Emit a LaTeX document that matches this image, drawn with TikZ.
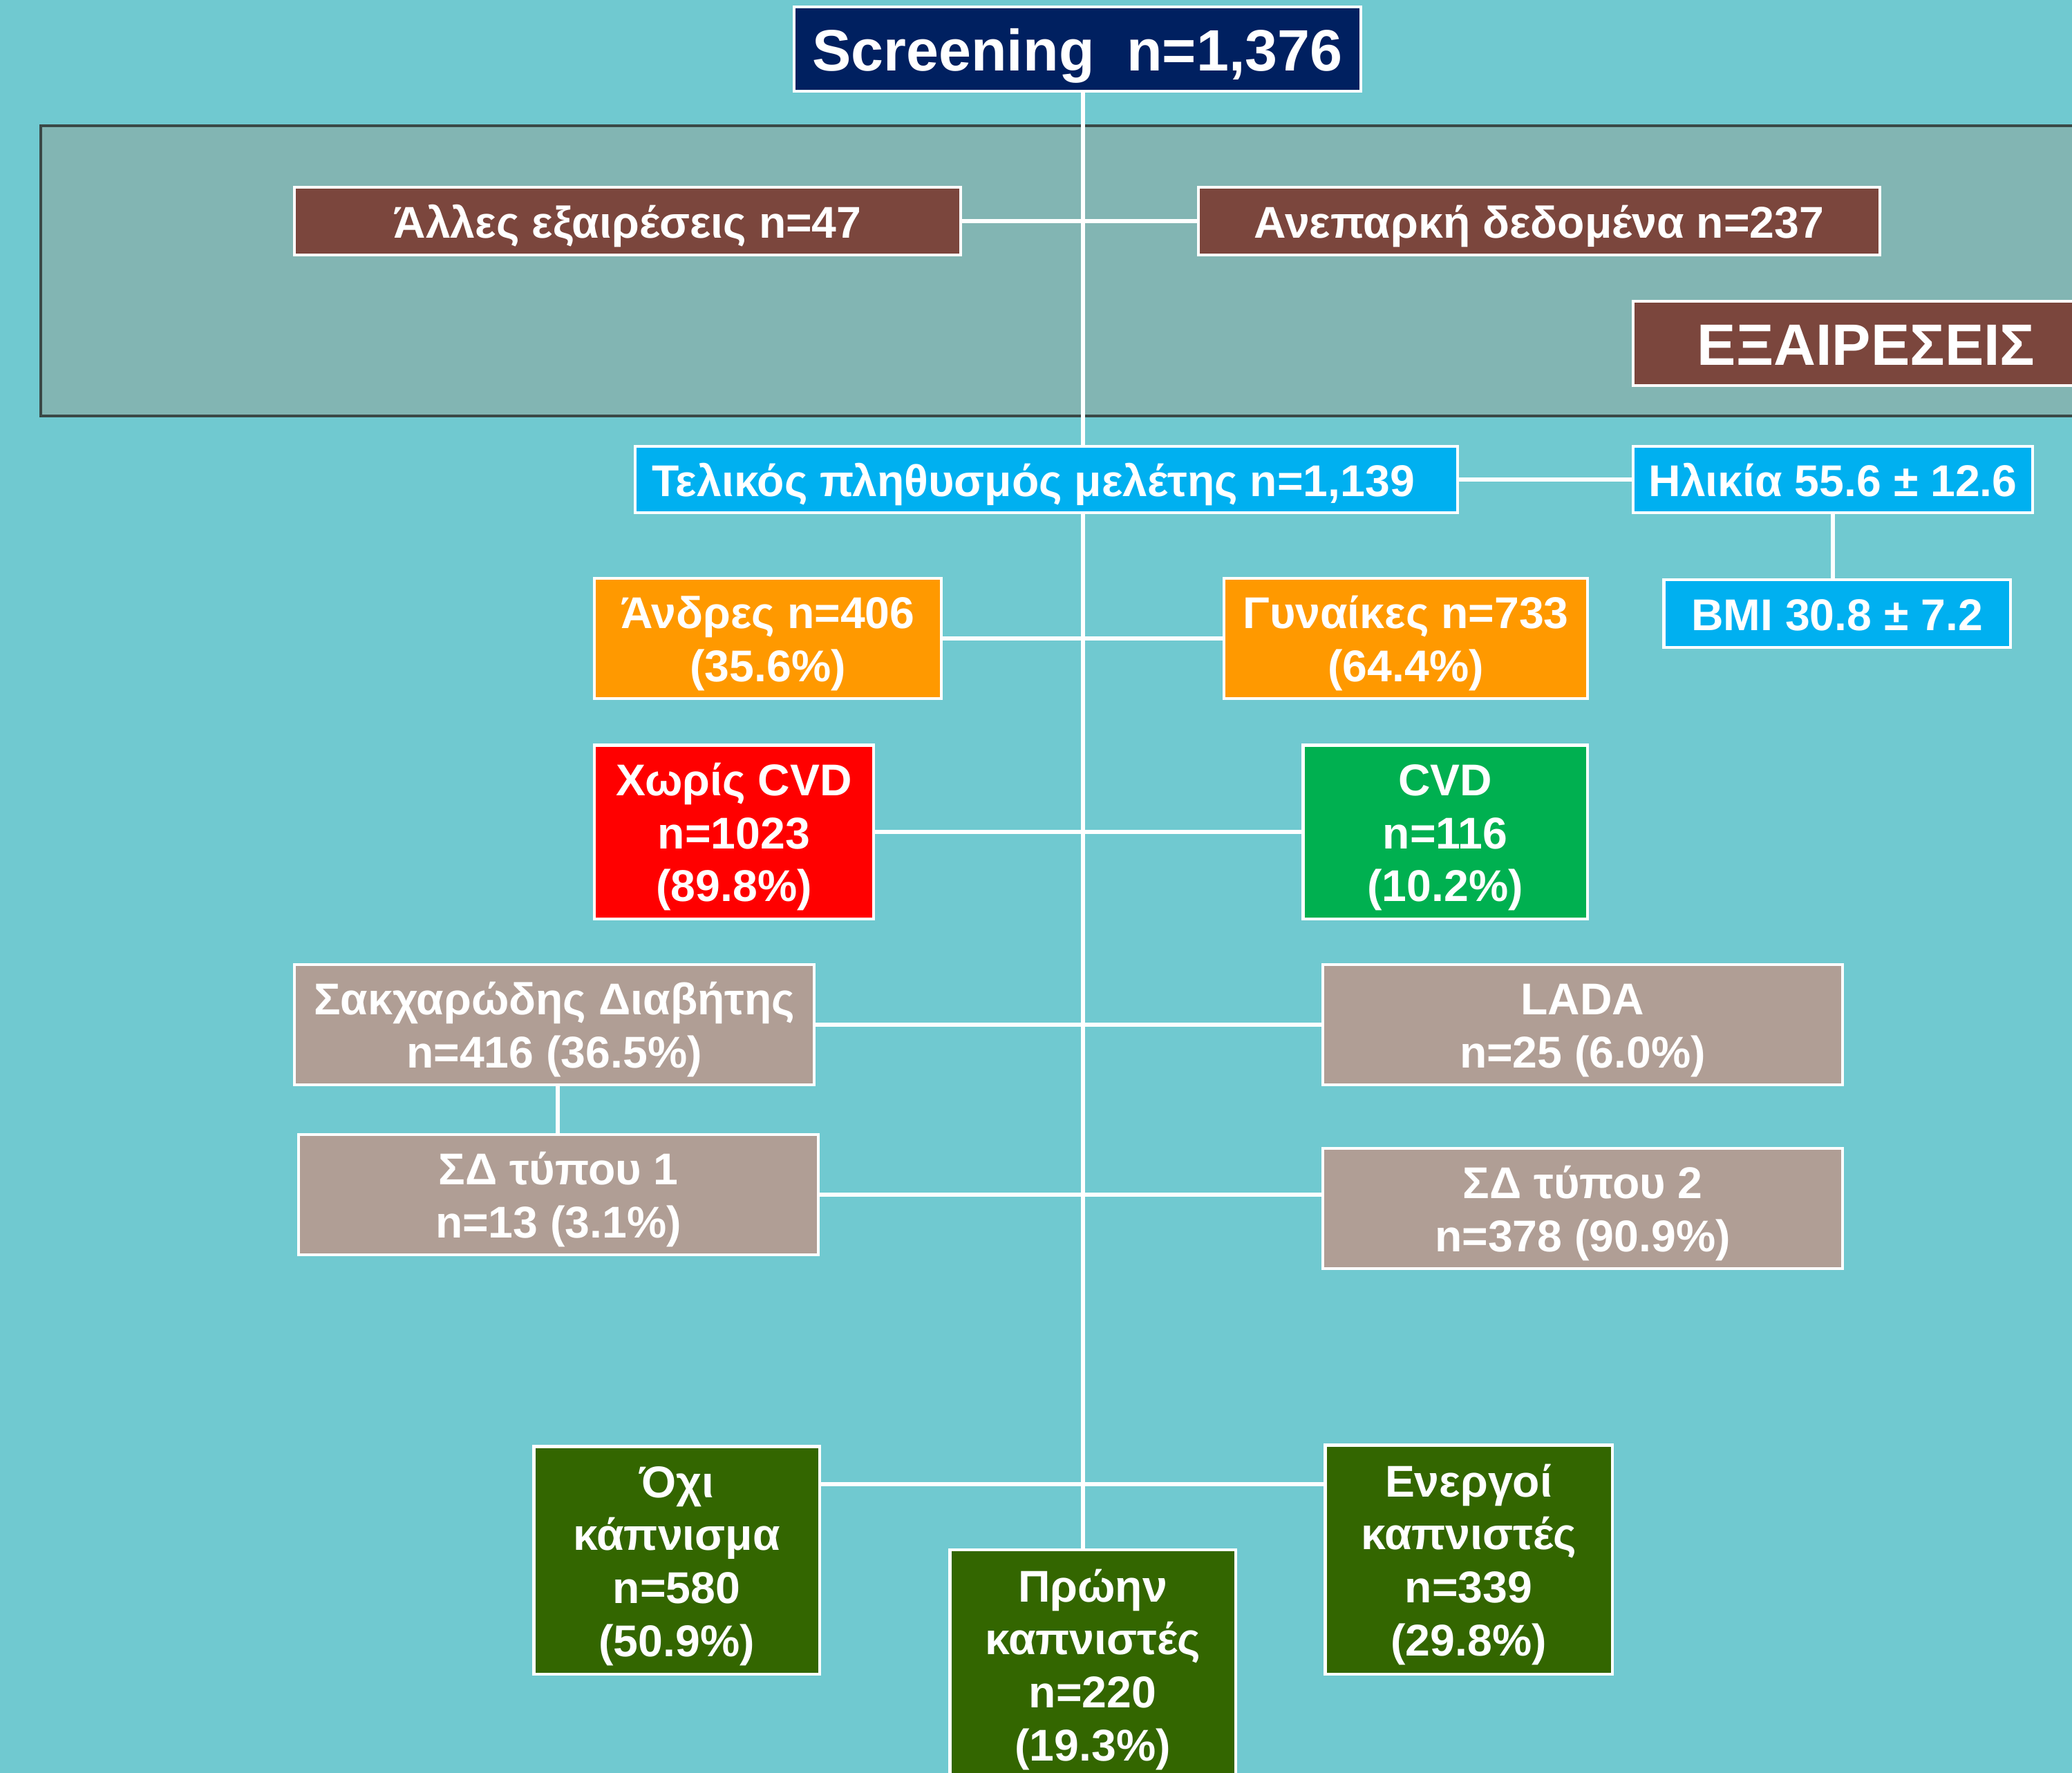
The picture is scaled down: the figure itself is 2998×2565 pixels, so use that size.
\documentclass[tikz,border=0pt]{standalone}
\usepackage{fontspec}
\setmainfont{Liberation Sans}
\definecolor{bgteal}{HTML}{70C9D0}
\definecolor{bandgray}{HTML}{82B5B3}
\definecolor{banddark}{HTML}{3A4846}
\definecolor{navy}{HTML}{002060}
\definecolor{brownx}{HTML}{7B463D}
\definecolor{cyanx}{HTML}{00B0F0}
\definecolor{orangex}{HTML}{FF9900}
\definecolor{redx}{HTML}{FF0000}
\definecolor{greenx}{HTML}{00B050}
\definecolor{taupe}{HTML}{B09E95}
\definecolor{darkgreen}{HTML}{336600}
\newcommand\bt[1]{\raisebox{-2.5pt}[\height][\depth]{\begin{tabular}{@{}c@{}}#1\end{tabular}}}
\pgfdeclarelayer{bgl}
\pgfdeclarelayer{lines}
\pgfsetlayers{bgl,lines,main}
\tikzset{
  box/.style={draw=white, line width=1.2pt, rectangle, inner sep=0pt,
    text=white, font=\fontsize{18.3}{21.8}\selectfont\bfseries},
  bigbox/.style={box, font=\fontsize{24}{28}\selectfont\bfseries,
    execute at begin node={\rule[-5pt]{0pt}{28pt}}},
  conn/.style={draw=white, line width=1.7pt}
}
\begin{document}
\begin{tikzpicture}[x=0.01cm, y=-0.01cm]
\useasboundingbox (0,0) rectangle (2998,2565);
\clip (0,0) rectangle (2998,2565);
\begin{pgfonlayer}{bgl}
  \fill[bgteal] (-10,-10) rectangle (3010,2575);
  \draw[fill=bandgray, draw=banddark, line width=1.4pt] (59,182) rectangle (3040,602);
\end{pgfonlayer}

\node[bigbox, fill=navy, minimum width=8.20cm, minimum height=1.22cm] (scr) at (1559,71) {Screening\ \ n=1,376};
\node[box, fill=brownx, minimum width=9.64cm, minimum height=0.98cm] (alles) at (908,320) {\bt{Άλλες εξαιρέσεις n=47}};
\node[box, fill=brownx, minimum width=9.85cm, minimum height=0.98cm] (anep) at (2227,320) {\bt{Ανεπαρκή δεδομένα n=237}};
\node[bigbox, fill=brownx, minimum width=6.74cm, minimum height=1.22cm] (exair) at (2700,497) {ΕΞΑΙΡΕΣΕΙΣ};

\node[box, fill=cyanx, minimum width=11.89cm, minimum height=0.96cm] (tel) at (1514,694) {\bt{Τελικός πληθυσμός μελέτης n=1,139}\kern10.8pt};
\node[box, fill=cyanx, minimum width=5.78cm, minimum height=0.96cm] (ilik) at (2652,694) {\bt{Ηλικία 55.6 ± 12.6}};
\node[box, fill=cyanx, minimum width=5.01cm, minimum height=0.98cm] (bmi) at (2658,888) {\bt{BMI 30.8 ± 7.2}};

\node[box, fill=orangex, minimum width=5.01cm, minimum height=1.74cm] (andr) at (1111,924) {\bt{Άνδρες n=406\\(35.6\%)}};
\node[box, fill=orangex, minimum width=5.25cm, minimum height=1.74cm] (gyn) at (2034,924) {\bt{Γυναίκες n=733\\(64.4\%)}};

\node[box, fill=redx, minimum width=4.04cm, minimum height=2.51cm] (nocvd) at (1062,1204) {\bt{Χωρίς CVD\\n=1023\\(89.8\%)}};
\node[box, fill=greenx, minimum width=4.11cm, minimum height=2.51cm] (cvd) at (2091,1204) {\bt{CVD\\n=116\\(10.2\%)}};

\node[box, fill=taupe, minimum width=7.52cm, minimum height=1.74cm] (sak) at (802,1483) {\bt{Σακχαρώδης Διαβήτης\\n=416 (36.5\%)}};
\node[box, fill=taupe, minimum width=7.51cm, minimum height=1.74cm] (lada) at (2290,1483) {\bt{LADA\\n=25 (6.0\%)}};
\node[box, fill=taupe, minimum width=7.52cm, minimum height=1.74cm] (sd1) at (808,1729) {\bt{ΣΔ τύπου 1\\n=13 (3.1\%)}};
\node[box, fill=taupe, minimum width=7.51cm, minimum height=1.74cm] (sd2) at (2290,1749) {\bt{ΣΔ τύπου 2\\n=378 (90.9\%)}};

\node[box, fill=darkgreen, minimum width=4.13cm, minimum height=3.29cm] (oxi) at (979,2258) {\bt{Όχι\\κάπνισμα\\n=580\\(50.9\%)}};
\node[box, fill=darkgreen, minimum width=4.15cm, minimum height=3.31cm] (energ) at (2125,2257) {\bt{Ενεργοί\\καπνιστές\\n=339\\(29.8\%)}};
\node[box, fill=darkgreen, minimum width=4.13cm, minimum height=3.32cm] (proin) at (1581,2409) {\bt{Πρώην\\καπνιστές\\n=220\\(19.3\%)}};

\coordinate (trunk) at (1567,0);
\coordinate (smk) at (0,2148);
\begin{pgfonlayer}{lines}
  \draw[conn] (trunk |- scr.south) -- (trunk |- proin.north);
  \draw[conn] (alles.east) -- (anep.west);
  \draw[conn] (tel.east) -- (ilik.west);
  \draw[conn] (ilik.south) -- (ilik.south |- bmi.north);
  \draw[conn] (andr.east) -- (gyn.west);
  \draw[conn] (nocvd.east) -- (cvd.west);
  \draw[conn] (sak.east) -- (lada.west);
  \draw[conn] ([xshift=0.05cm]sak.south) -- ([xshift=0.05cm]sak.south |- sd1.north);
  \draw[conn] (sd1.east) -- (sd2.west |- sd1.east);
  \draw[conn] (oxi.east |- smk) -- (energ.west |- smk);
\end{pgfonlayer}
\end{tikzpicture}
\end{document}
